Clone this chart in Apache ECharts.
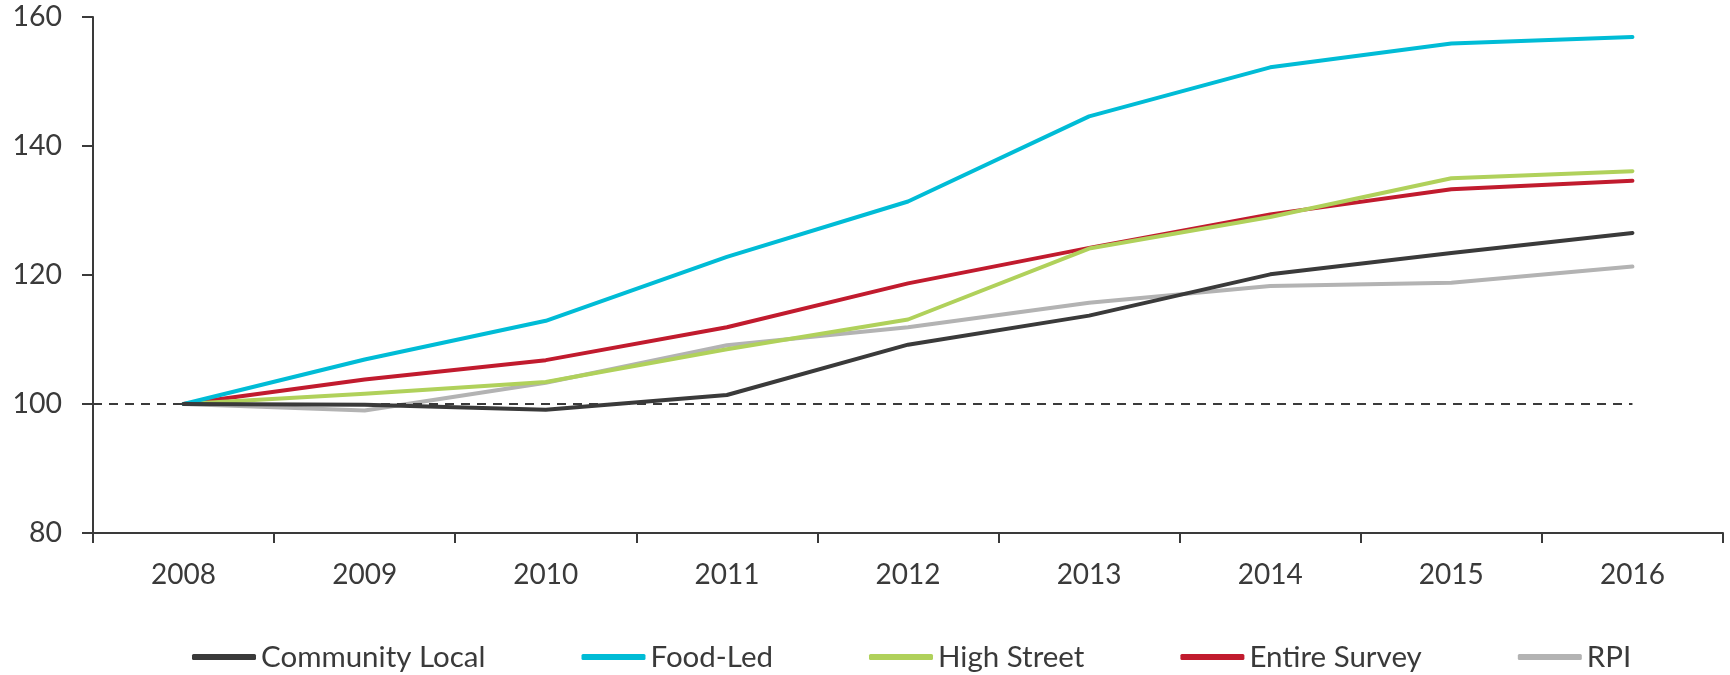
<!DOCTYPE html>
<html>
<head>
<meta charset="utf-8">
<script src="https://cdn.jsdelivr.net/npm/echarts@6/dist/echarts.min.js"></script>
<style>
  html, body { margin: 0; padding: 0; background: #ffffff; }
  #chart { width: 1730px; height: 675px; }
</style>
</head>
<body>
<div id="chart"></div>
<script>
const years = ['2008', '2009', '2010', '2011', '2012', '2013', '2014', '2015', '2016'];
const communityLocal = [100, 99.9, 99.1, 101.4, 109.2, 113.7, 120.1, 123.4, 126.5];
const foodLed        = [100, 106.9, 112.9, 122.8, 131.4, 144.6, 152.2, 155.9, 156.9];
const highStreet     = [100, 101.6, 103.4, 108.5, 113.1, 124.1, 129.0, 135.0, 136.1];
const entireSurvey   = [100, 103.8, 106.8, 111.9, 118.7, 124.2, 129.4, 133.3, 134.6];
const rpi            = [100, 99.0, 103.3, 109.1, 111.9, 115.7, 118.3, 118.8, 121.3];
const seriesNames = ['Community Local', 'Food-Led', 'High Street', 'Entire Survey', 'RPI'];
const seriesColors = ['#3a3a3a', '#00bcd6', '#b0d15b', '#c11b2e', '#b3b3b3'];
const baseValue = 100;
const yTicks = { min: 80, max: 160, interval: 20 };

const txt = '#3a3a3a';
const font = 'Lato, "Open Sans", sans-serif';
const seriesData = [communityLocal, foodLed, highStreet, entireSurvey, rpi];

const lineSeries = seriesNames.map((name, i) => ({
  name: name,
  type: 'line',
  data: seriesData[i],
  symbol: 'none',
  color: seriesColors[i],
  lineStyle: { width: 4, color: seriesColors[i], cap: 'round', join: 'round' },
  z: 2 + (seriesNames.length - i)
}));

const chart = echarts.init(document.getElementById('chart'), null, { renderer: 'canvas' });
chart.setOption({
  animation: false,
  backgroundColor: '#ffffff',
  grid: { left: 93, right: 7, top: 17, bottom: 142, outerBoundsMode: 'none' },
  legend: {
    data: seriesNames,
    left: 187,
    top: 637,
    itemWidth: 64,
    itemHeight: 6,
    itemGap: 96,
    icon: 'roundRect',
    textStyle: { color: txt, fontSize: 29.5, fontFamily: font }
  },
  xAxis: [
    {
      type: 'category',
      data: years,
      boundaryGap: true,
      axisLine: { show: true, lineStyle: { color: txt, width: 2 } },
      axisTick: { show: true, length: 10, lineStyle: { color: txt, width: 2 } },
      axisLabel: { color: txt, fontSize: 28, fontFamily: font, margin: 28 },
      splitLine: { show: false }
    },
    {
      type: 'value',
      min: 0,
      max: years.length,
      show: false
    }
  ],
  yAxis: {
    type: 'value',
    min: yTicks.min,
    max: yTicks.max,
    interval: yTicks.interval,
    axisLine: { show: true, lineStyle: { color: txt, width: 2 } },
    axisTick: { show: true, length: 11, lineStyle: { color: txt, width: 2 } },
    axisLabel: { color: txt, fontSize: 28.5, fontFamily: font, margin: 31 },
    splitLine: { show: false }
  },
  series: [
    ...lineSeries,
    {
      name: 'base',
      type: 'line',
      xAxisIndex: 1,
      data: [[0, baseValue], [years.length - 0.5, baseValue]],
      symbol: 'none',
      lineStyle: { width: 2.2, color: '#3a3a3a', type: [9, 7] },
      z: 20,
      silent: true
    }
  ]
});
</script>
</body>
</html>
